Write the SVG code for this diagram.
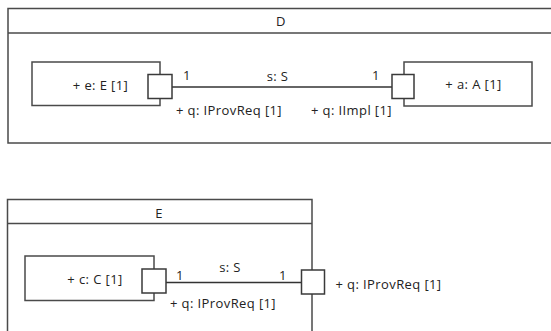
<svg xmlns="http://www.w3.org/2000/svg" width="551" height="331" viewBox="0 0 551 331">
<style>
.frame{fill:#fff;stroke:#4a4a4a;stroke-width:1.5}
.box{fill:#fff;stroke:#4a4a4a;stroke-width:1.5}
.port{fill:#fff;stroke:#3a3a3a;stroke-width:1.5}
.conn{fill:none;stroke:#333;stroke-width:1.5}
text{font-family:"Open Sans","Noto Sans",sans-serif;font-size:13px;letter-spacing:0.4px;fill:#222}
.m{text-anchor:middle}
.e{text-anchor:end}
</style>
<rect width="551" height="331" fill="#fff"/>
<g id="D">
<rect class="frame" x="8" y="8.5" width="560" height="134.5"/>
<line class="frame" x1="8" y1="33" x2="568" y2="33"/>
<text class="m" x="281" y="25.5">D</text>
</g>
<g id="e">
<rect class="box" x="32" y="62" width="128" height="43.5"/>
<text class="m" x="100.5" y="89.5">+ e: E [1]</text>
</g>
<g id="a">
<rect class="box" x="404" y="62" width="128" height="44"/>
<text class="m" x="473.5" y="89">+ a: A [1]</text>
</g>
<g id="E">
<rect class="frame" x="7.5" y="199.5" width="304.5" height="140"/>
<line class="frame" x1="7.5" y1="223.5" x2="312" y2="223.5"/>
<text class="m" x="159" y="217.5">E</text>
</g>
<g id="c">
<rect class="box" x="25" y="256" width="129" height="44.5"/>
<text class="m" x="95" y="283.5">+ c: C [1]</text>
</g>
<g id="connectors">
<line class="conn" x1="172" y1="87" x2="392" y2="87"/>
<line class="conn" x1="166" y1="282.5" x2="301.5" y2="282.5"/>
</g>
<g id="ports">
<rect class="port" x="148" y="74.5" width="24" height="24"/>
<rect class="port" x="392" y="74.5" width="22" height="24"/>
<rect class="port" x="142" y="269" width="24" height="24"/>
<rect class="port" x="301.5" y="270" width="23" height="24"/>
</g>
<g id="labels">
<text class="m" x="187" y="79.5">1</text>
<text class="m" x="277.5" y="80.5">s: S</text>
<text class="m" x="376" y="79.5">1</text>
<text x="176" y="114.5">+ q: IProvReq [1]</text>
<text class="e" x="392" y="114.5">+ q: IImpl [1]</text>
<text class="m" x="180" y="279.5">1</text>
<text class="m" x="230" y="271.5">s: S</text>
<text class="m" x="283" y="279.5">1</text>
<text x="170" y="307.5">+ q: IProvReq [1]</text>
<text x="335.5" y="288.5">+ q: IProvReq [1]</text>
</g>
</svg>
